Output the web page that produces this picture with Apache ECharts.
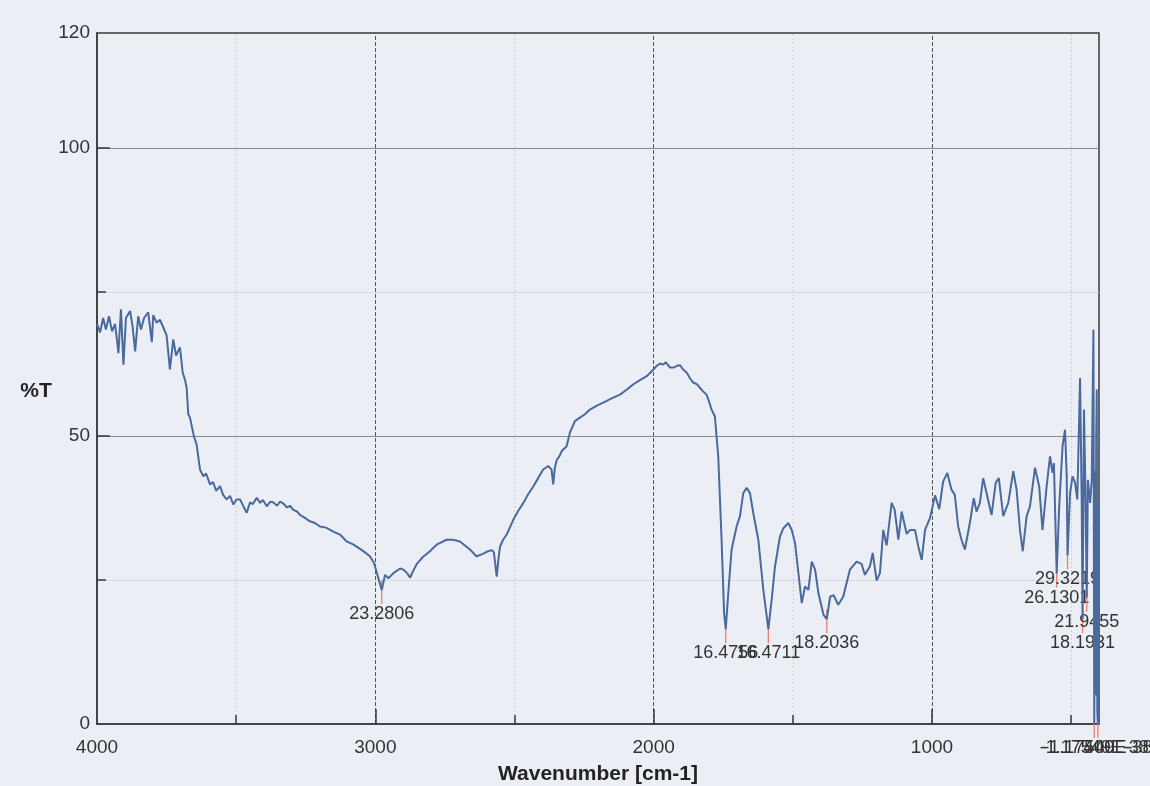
<!DOCTYPE html>
<html>
<head>
<meta charset="utf-8">
<script src="https://cdn.jsdelivr.net/npm/echarts@6/dist/echarts.min.js"></script>
<style>
html,body{margin:0;padding:0;background:#eceef6;}
#chart{width:1150px;height:786px;}
</style>
</head>
<body>
<div id="chart"></div>
<script>
// ---- data ----
var wavenumber = [4000,3989,3978,3968,3957,3946,3935,3923,3914,3905,3896,3881,3872,3863,3852,3842,3831,3816,3803,3798,3786,3774,3762,3750,3738,3726,3716,3702,3692,3684,3678,3672,3666,3660,3652,3642,3637,3630,3618,3608,3594,3583,3572,3558,3547,3534,3522,3510,3499,3486,3476,3462,3450,3440,3426,3414,3404,3390,3378,3367,3353,3343,3331,3317,3307,3295,3281,3271,3253,3235,3217,3199,3177,3151,3127,3103,3080,3055,3037,3019,3005,2995,2989,2977,2965,2953,2947,2935,2911,2899,2886,2875,2865,2851,2829,2804,2778,2744,2720,2696,2678,2660,2636,2612,2595,2581,2574,2564,2558,2552,2541,2528,2516,2504,2487,2468,2452,2432,2415,2397,2379,2373,2367,2361,2355,2348,2340,2330,2322,2313,2301,2290,2283,2265,2247,2229,2204,2181,2153,2121,2096,2073,2049,2025,2006,1989,1977,1967,1956,1941,1929,1916,1905,1895,1881,1869,1858,1844,1834,1823,1810,1801,1792,1780,1768,1756,1747,1741,1732,1720,1702,1690,1678,1666,1654,1642,1624,1606,1588,1576,1564,1546,1534,1516,1504,1492,1480,1468,1456,1444,1432,1420,1408,1390,1378,1366,1354,1337,1319,1295,1271,1253,1241,1223,1213,1199,1187,1175,1163,1145,1134,1121,1109,1091,1079,1061,1049,1037,1025,1007,989,974,960,945,930,918,906,894,882,864,850,840,828,816,804,786,771,760,744,726,708,696,684,674,660,648,630,615,603,588,576,567,562,552,543,531,522,516,513,504,495,486,478,468,462,459,454,449,444,440,432,426,420,417,414,412,410,408,406,404,402,400];
var transmittance = [69.5,68.0,70.5,68.5,70.8,68.2,69.5,64.4,72.0,62.4,70.5,71.7,69.0,64.7,70.8,68.5,70.5,71.5,66.3,71.0,69.7,70.2,68.9,67.5,61.6,66.8,64.0,65.4,61.0,59.8,58.4,53.8,53.2,52.9,50.0,48.5,48.8,44.2,43.0,43.5,41.6,42.0,40.5,41.3,39.8,39.0,39.6,38.1,39.0,39.0,38.0,36.7,38.5,38.2,39.3,38.4,38.9,37.8,38.6,38.5,37.9,38.6,38.3,37.6,37.9,37.2,36.9,36.3,35.8,35.2,34.9,34.3,34.1,33.4,32.9,31.7,31.2,30.4,29.8,29.1,28.0,26.3,26.5,23.2806,25.9,25.3,25.6,26.2,27.0,26.8,26.2,25.4,26.5,27.8,29.0,30.0,31.2,32.0,32.0,31.7,31.0,30.3,29.1,29.6,30.0,30.2,29.8,25.6,28.5,30.8,32.0,32.9,34.2,35.5,37.0,38.4,39.8,41.3,42.7,44.2,44.8,44.5,44.2,41.6,44.5,45.9,46.4,47.4,47.8,48.2,50.6,51.8,52.6,53.2,53.8,54.6,55.3,55.8,56.5,57.2,58.1,59.0,59.7,60.4,61.3,62.2,62.6,62.4,62.8,61.9,61.9,62.2,62.3,61.6,61.0,60.0,59.3,59.0,58.4,57.8,57.2,56.0,54.6,53.4,46.5,32.0,19.3,16.4756,22.7,30.3,34.3,36.1,40.1,41.0,40.1,36.6,32.0,23.3,16.4711,21.6,27.4,32.6,34.0,34.9,33.7,31.4,26.2,21.0,23.9,23.3,28.2,26.8,22.7,19.0,18.2036,22.1,22.4,20.7,22.1,26.8,28.2,27.8,25.9,27.4,29.7,24.9,26.2,33.7,31.0,38.4,37.2,32.0,36.9,33.0,33.7,33.7,30.8,28.5,33.7,35.8,39.7,37.3,42.1,43.6,40.7,39.8,34.3,32.0,30.3,34.9,39.2,36.9,38.4,42.7,40.1,36.3,41.9,42.7,36.1,38.4,43.9,40.7,33.7,30.0,36.1,37.8,44.5,41.3,33.7,41.3,46.5,43.6,45.3,26.1301,37.8,48.2,51.1,43.0,29.3219,40.1,43.0,41.9,39.0,60.1,37.8,18.1931,54.6,41.3,21.9455,42.4,38.4,42.4,68.5,0,44,5,50,58.1,2,0,38,0];

var peakWn = [2977,1741,1588,1378,552,513,459,444,417,404];
var peakT = [23.2806,16.4756,16.4711,18.2036,26.1301,29.3219,18.1931,21.9455,-1.17549e-38,-1.17549e-38];
var peakLabel = ['23.2806','16.4756','16.4711','18.2036','26.1301','29.3219','18.1931','21.9455','-1.17549E-38','-1.17549E-38'];

var xLabelValues = [4000,3000,2000,1000,400];
var xMajorTicks = [3000,2000,1000];
var xMinorTicks = [3500,2500,1500,500];
var yLabelValues = [0,50,100,120];
var yMajorTicks = [50,100];
var yMinorTicks = [25,75];
var xDashedGrid = [3000,2000,1000];
var xFaintGrid = [3500,2500,1500,500];
var yGrayGrid = [100,50];
var yFaintGrid = [75,25];

// ---- chart ----
var spectrum = wavenumber.map(function(w,i){return [w, transmittance[i]];});
var peaks = peakWn.map(function(w,i){return [w, peakT[i]];});
var FONT = '"Liberation Sans", Arial, sans-serif';
var axisColor = '#3a3a3a';
var plain = function(v){ return String(v); };

var markData = [];
xFaintGrid.forEach(function(v){markData.push({xAxis:v, lineStyle:{color:'#cfd1da', width:1, type:[2,2]}});});
yFaintGrid.forEach(function(v){markData.push({yAxis:v, lineStyle:{color:'#d6d8e0', width:1, type:'solid'}});});
xDashedGrid.forEach(function(v){markData.push({xAxis:v, lineStyle:{color:'#555', width:1, type:[4,2]}});});
yGrayGrid.forEach(function(v){markData.push({yAxis:v, lineStyle:{color:'#8a8a8a', width:1, type:'solid'}});});

var chart = echarts.init(document.getElementById('chart'), null, {renderer:'canvas'});
chart.setOption({
  backgroundColor:'#eceef6',
  animation:false,
  grid:{left:97, right:51, top:33, bottom:62, show:true, borderColor:axisColor, borderWidth:1.5, backgroundColor:'transparent'},
  xAxis:[{
    type:'value', min:400, max:4000, inverse:true, position:'bottom',
    axisLine:{show:true, onZero:false, lineStyle:{color:axisColor, width:1.5}},
    axisTick:{show:true, inside:true, length:15, customValues:xMajorTicks, lineStyle:{color:axisColor, width:1.5}},
    axisLabel:{customValues:xLabelValues, formatter:plain, margin:14, color:'#333', fontSize:19, fontFamily:FONT},
    splitLine:{show:false}
  },{
    type:'value', min:400, max:4000, inverse:true, position:'bottom',
    axisLine:{show:false},
    axisTick:{show:true, inside:true, length:9, customValues:xMinorTicks, lineStyle:{color:axisColor, width:1.5}},
    axisLabel:{show:false},
    splitLine:{show:false}
  }],
  yAxis:[{
    type:'value', min:0, max:120, position:'left',
    axisLine:{show:true, onZero:false, lineStyle:{color:axisColor, width:1.5}},
    axisTick:{show:true, inside:true, length:13, customValues:yMajorTicks, lineStyle:{color:axisColor, width:1.5}},
    axisLabel:{customValues:yLabelValues, formatter:plain, margin:7, color:'#333', fontSize:19, fontFamily:FONT},
    splitLine:{show:false}
  },{
    type:'value', min:0, max:120, position:'left',
    axisLine:{show:false},
    axisTick:{show:true, inside:true, length:9, customValues:yMinorTicks, lineStyle:{color:axisColor, width:1.5}},
    axisLabel:{show:false},
    splitLine:{show:false}
  }],
  graphic:[
    {type:'text', x:36, y:391, style:{text:'%T', font:'bold 21px '+FONT, fill:'#222', align:'center', verticalAlign:'middle'}},
    {type:'text', x:598, y:774, style:{text:'Wavenumber [cm-1]', font:'bold 21px '+FONT, fill:'#222', align:'center', verticalAlign:'middle'}}
  ],
  series:[{
    type:'custom', xAxisIndex:0, yAxisIndex:0, data:peaks, clip:false, z:1, silent:true,
    renderItem:function(params, api){
      var p = api.coord([api.value(0), api.value(1)]);
      return {type:'group', children:[
        {type:'line', shape:{x1:p[0], y1:p[1]-10, x2:p[0], y2:p[1]+14}, style:{stroke:'#e8806e', lineWidth:1.3}},
        {type:'text', x:p[0], y:p[1]+24, style:{text:peakLabel[params.dataIndex], font:'18px '+FONT, fill:'#333', align:'center', verticalAlign:'middle'}}
      ]};
    }
  },{
    type:'line', xAxisIndex:0, yAxisIndex:0, data:spectrum, showSymbol:false, z:3, silent:true,
    lineStyle:{color:'#4a699d', width:2},
    markLine:{silent:true, symbol:'none', label:{show:false}, data:markData, z:0}
  }]
});
</script>
</body>
</html>
